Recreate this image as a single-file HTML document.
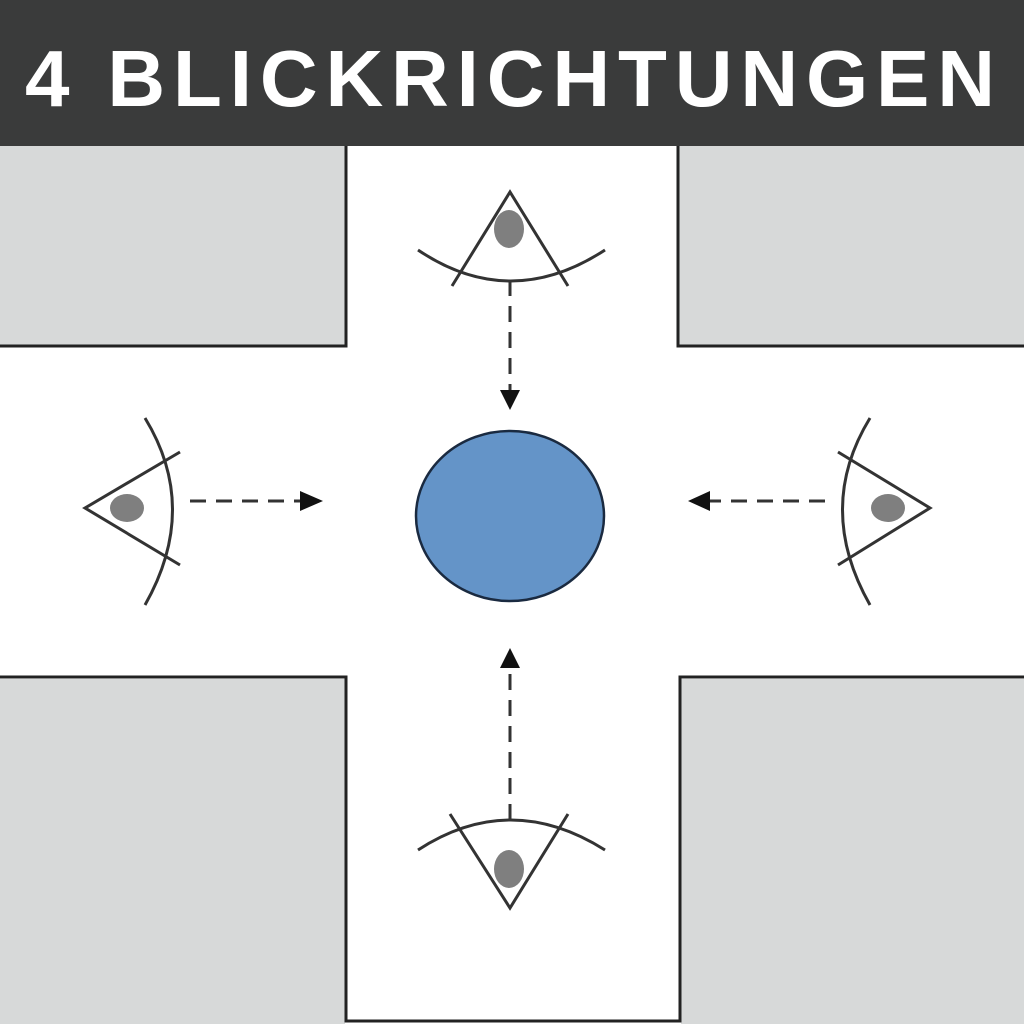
<!DOCTYPE html>
<html><head><style>body{margin:0;width:1024px;height:1024px;overflow:hidden;background:#fff}</style></head><body>
<svg width="1024" height="1024" viewBox="0 0 1024 1024" xmlns="http://www.w3.org/2000/svg">
<rect x="0" y="0" width="1024" height="146" fill="#3a3b3b"/>
<text x="25" y="106" textLength="970" lengthAdjust="spacing" font-family="Liberation Sans, sans-serif" font-weight="bold" font-size="80" fill="#fff">4 BLICKRICHTUNGEN</text>
<rect x="0" y="146" width="345" height="199" fill="#d7d9d9"/>
<rect x="679" y="146" width="345" height="199" fill="#d7d9d9"/>
<rect x="0" y="679" width="345" height="345" fill="#d7d9d9"/>
<rect x="681" y="679" width="343" height="345" fill="#d7d9d9"/>
<g stroke="#222" stroke-width="3" fill="none">
<path d="M0 346 H346 V146"/><path d="M1024 346 H678 V146"/>
<path d="M0 677 H346 V1021 H680 V677 H1024"/>
</g>
<ellipse cx="510" cy="516" rx="94" ry="85" fill="#6494c8" stroke="#1a2a40" stroke-width="2.5"/>
<g stroke="#333" stroke-width="3" fill="none">
<path d="M452 286 L510 192 L568 286"/>
<path d="M418 250 Q510 312 605 250"/>
<path d="M510 280 V395" stroke-dasharray="16 10"/>
<path d="M450 814 L510 908 L568 814"/>
<path d="M418 850 Q510 790 605 850"/>
<path d="M510 820 V662" stroke-dasharray="16 10"/>
<path d="M180 452 L85 508 L180 565"/>
<path d="M145 418 Q200 508 145 605"/>
<path d="M190 501 H305" stroke-dasharray="16 10"/>
<path d="M838 452 L930 508 L838 565"/>
<path d="M870 418 Q815 508 870 605"/>
<path d="M825 501 H705" stroke-dasharray="16 10"/>
</g>
<g fill="#111">
<path d="M500 390 L520 390 L510 410Z"/>
<path d="M500 668 L520 668 L510 648Z"/>
<path d="M300 491 L300 511 L323 501Z"/>
<path d="M710 491 L710 511 L688 501Z"/>
</g>
<g fill="#7f7f7f">
<ellipse cx="509" cy="229" rx="15" ry="19"/>
<ellipse cx="509" cy="869" rx="15" ry="19"/>
<ellipse cx="127" cy="508" rx="17" ry="14"/>
<ellipse cx="888" cy="508" rx="17" ry="14"/>
</g>
</svg>
</body></html>
